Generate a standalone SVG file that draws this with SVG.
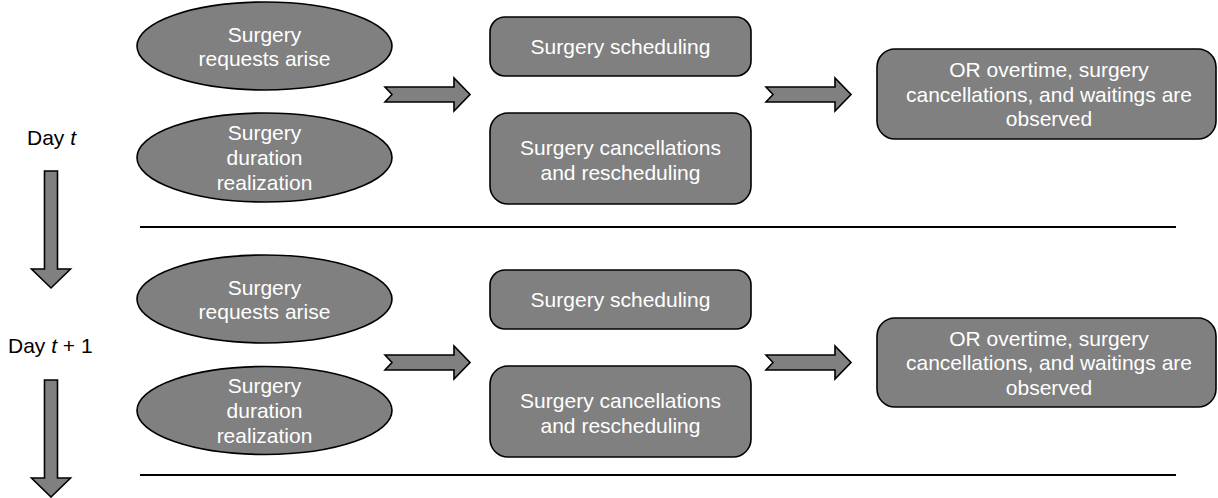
<svg xmlns="http://www.w3.org/2000/svg" width="1218" height="498" viewBox="0 0 1218 498">
  <defs>
    <style>
      .shape { fill: #808080; stroke: #000; stroke-width: 1.6; }
      .blk { fill: #808080; stroke: #000; stroke-width: 1.6; stroke-linejoin: miter; }
      .lbl { font-family: "Liberation Sans", Arial, sans-serif; font-size: 21px; fill: #ffffff; text-anchor: middle; }
      .day { font-family: "Liberation Sans", Arial, sans-serif; font-size: 21px; fill: #000; }
      .sep { stroke: #000; stroke-width: 2.2; }
    </style>
    <!-- notched block arrow pointing right, origin at tail top-left -->
    <path id="rarrow" d="M0,9 L69,9 L69,0 L85,16.5 L69,33 L69,24 L0,24 L7,16.5 Z"/>
    <!-- block arrow pointing down, origin at shaft top-left -->
    <path id="darrow" d="M0,0 L13,0 L13,98 L26,98 L6.5,117 L-13,98 L0,98 Z"/>
  </defs>

  <!-- day labels -->
  <g id="day-t">
    <text class="day" x="27" y="145">Day <tspan font-style="italic">t</tspan></text>
  </g>
  <g id="day-t1">
    <text class="day" x="8" y="353">Day <tspan font-style="italic">t</tspan> + 1</text>
  </g>

  <!-- separators between days -->
  <g id="separators">
    <line class="sep" x1="140" y1="227" x2="1176" y2="227"/>
    <line class="sep" x1="140" y1="475" x2="1176" y2="475"/>
  </g>

  <!-- day t -->
  <g id="requests-t">
    <ellipse class="shape" cx="264.5" cy="46" rx="127.5" ry="44"/>
    <text class="lbl" x="264.5" y="41.5">Surgery</text>
    <text class="lbl" x="264.5" y="65.5">requests arise</text>
  </g>
  <g id="duration-t">
    <ellipse class="shape" cx="264.5" cy="157.5" rx="127.5" ry="44.5"/>
    <text class="lbl" x="264.5" y="140">Surgery</text>
    <text class="lbl" x="264.5" y="165">duration</text>
    <text class="lbl" x="264.5" y="190">realization</text>
  </g>
  <g id="scheduling-t">
    <rect class="shape" x="490" y="17" width="261" height="59" rx="15"/>
    <text class="lbl" x="620.5" y="54">Surgery scheduling</text>
  </g>
  <g id="cancel-t">
    <rect class="shape" x="490" y="113" width="261" height="91" rx="18"/>
    <text class="lbl" x="620.5" y="155">Surgery cancellations</text>
    <text class="lbl" x="620.5" y="180">and rescheduling</text>
  </g>
  <g id="observed-t">
    <rect class="shape" x="877" y="49" width="339" height="90" rx="18"/>
    <text class="lbl" x="1049" y="77">OR overtime, surgery</text>
    <text class="lbl" x="1049" y="101.5">cancellations, and waitings are</text>
    <text class="lbl" x="1049" y="126">observed</text>
  </g>

  <!-- day t + 1 -->
  <g id="requests-t1">
    <ellipse class="shape" cx="264.5" cy="299" rx="127.5" ry="44"/>
    <text class="lbl" x="264.5" y="294.5">Surgery</text>
    <text class="lbl" x="264.5" y="318.5">requests arise</text>
  </g>
  <g id="duration-t1">
    <ellipse class="shape" cx="264.5" cy="410.5" rx="127.5" ry="44"/>
    <text class="lbl" x="264.5" y="393">Surgery</text>
    <text class="lbl" x="264.5" y="418">duration</text>
    <text class="lbl" x="264.5" y="443">realization</text>
  </g>
  <g id="scheduling-t1">
    <rect class="shape" x="490" y="270" width="261" height="59" rx="15"/>
    <text class="lbl" x="620.5" y="307">Surgery scheduling</text>
  </g>
  <g id="cancel-t1">
    <rect class="shape" x="490" y="366" width="261" height="91" rx="18"/>
    <text class="lbl" x="620.5" y="408">Surgery cancellations</text>
    <text class="lbl" x="620.5" y="433">and rescheduling</text>
  </g>
  <g id="observed-t1">
    <rect class="shape" x="877" y="318" width="339" height="89" rx="18"/>
    <text class="lbl" x="1049" y="345.5">OR overtime, surgery</text>
    <text class="lbl" x="1049" y="370">cancellations, and waitings are</text>
    <text class="lbl" x="1049" y="394.5">observed</text>
  </g>

  <!-- flow arrows -->
  <g id="connectors">
    <use href="#rarrow" class="blk" x="385" y="78"/>
    <use href="#rarrow" class="blk" x="766" y="78"/>
    <use href="#rarrow" class="blk" x="385" y="346"/>
    <use href="#rarrow" class="blk" x="766" y="346"/>
    <use href="#darrow" class="blk" x="44.5" y="171"/>
    <use href="#darrow" class="blk" x="44.5" y="380"/>
  </g>
</svg>
